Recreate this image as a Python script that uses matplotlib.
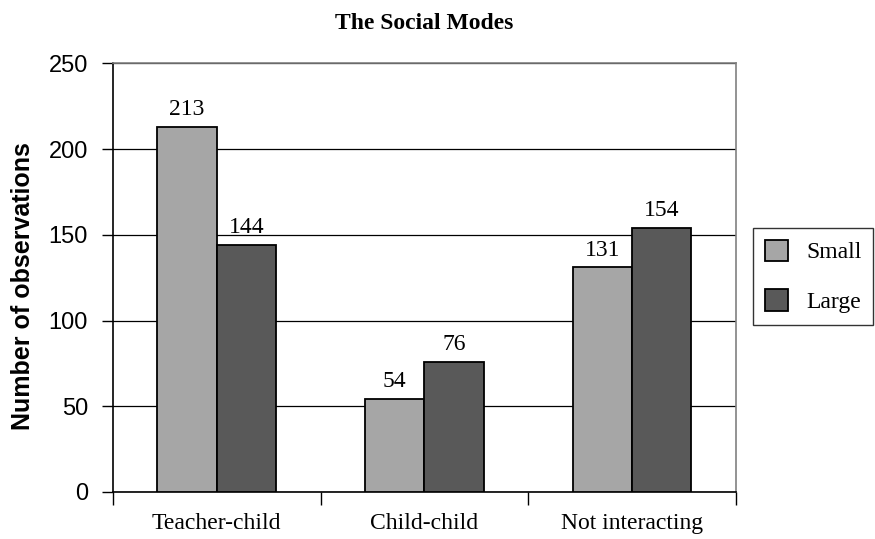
import matplotlib
matplotlib.use("Agg")
import matplotlib.pyplot as plt
import numpy as np

categories = ["Teacher-child", "Child-child", "Not interacting"]
series_names = ["Small", "Large"]
small_vals = [213, 54, 131]
large_vals = [144, 76, 154]
y_ticks = [0, 50, 100, 150, 200, 250]

COLORS = {"Small": "#a6a6a6", "Large": "#595959"}
SERIF = ["Liberation Serif", "DejaVu Serif"]
SANS = ["Liberation Sans", "DejaVu Sans"]
FS = 17

fig = plt.figure(figsize=(8.75, 5.39), dpi=100)
ax = fig.add_axes([0.1291, 0.0872, 0.7120, 0.7950])

x = np.arange(len(categories))
width = 1 / 3.5

for i, (name, vals) in enumerate(zip(series_names, [small_vals, large_vals])):
    offs = (i - 0.5) * width
    bars = ax.bar(x + offs, vals, width, color=COLORS[name], edgecolor="black",
                  linewidth=1.3, label=name, zorder=3)
    for b, v in zip(bars, vals):
        ax.annotate(f"{v}", (b.get_x() + b.get_width() / 2, v),
                    xytext=(0, 5), textcoords="offset points",
                    ha="center", va="bottom", fontsize=FS, family=SERIF)

ax.set_xlim(-0.5, 2.5)
ax.set_ylim(0, 250)
ax.set_yticks(y_ticks)
ax.set_yticklabels([str(t) for t in y_ticks], fontsize=FS, family=SANS)
ax.tick_params(axis="y", length=8, width=1, pad=10)

# boundary ticks as major, category labels as minor
ax.set_xticks([-0.5, 0.5, 1.5, 2.5])
ax.set_xticklabels([])
ax.set_xticks(x, minor=True)
ax.set_xticklabels(categories, minor=True, fontsize=FS, family=SERIF)
ax.tick_params(axis="x", which="major", length=9, width=1)
ax.tick_params(axis="x", which="minor", length=0, pad=15)

ax.yaxis.grid(True, color="black", linewidth=0.9, zorder=0)
ax.set_axisbelow(True)
for side in ["top", "right"]:
    ax.spines[side].set_color("#808080")
    ax.spines[side].set_linewidth(1.2)
for side in ["left", "bottom"]:
    ax.spines[side].set_color("black")
    ax.spines[side].set_linewidth(1.2)

ax.set_ylabel("Number of observations", fontsize=18, fontweight="bold",
              family=SANS)
ax.yaxis.set_label_coords(-0.125, 0.48)
ax.set_title("The Social Modes", fontsize=FS, fontweight="bold",
             family=SERIF, pad=25)

leg = ax.legend(loc="upper left", bbox_to_anchor=(0.8606, 0.577),
                bbox_transform=fig.transFigure, frameon=True, fancybox=False,
                prop={"family": SERIF, "size": FS}, handlelength=1.0,
                handleheight=1.0, handletextpad=0.75, borderpad=0.5,
                labelspacing=1.1, borderaxespad=0)
leg.get_frame().set_edgecolor("black")
leg.get_frame().set_linewidth(1.0)

fig.savefig("out.png", dpi=100)
